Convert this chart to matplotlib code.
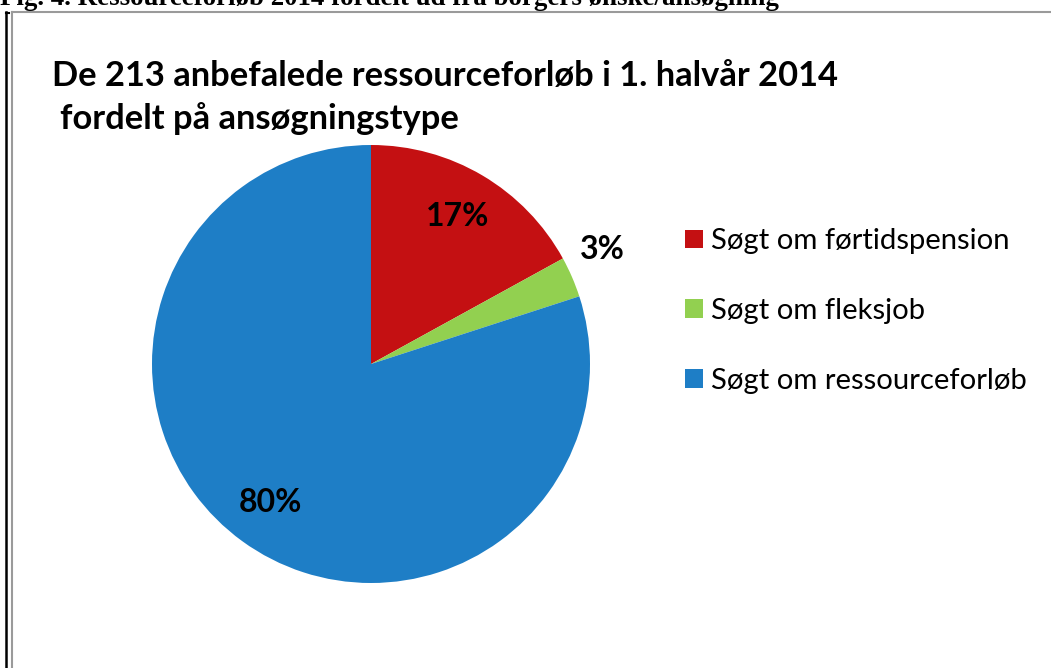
import numpy as np
import matplotlib.pyplot as plt
from matplotlib.lines import Line2D

# data
labels = ["Søgt om førtidspension", "Søgt om fleksjob", "Søgt om ressourceforløb"]
shares = [17, 3, 80]
colors = ["#C41012", "#92D050", "#1E7EC6"]

title_lines = ["De 213 anbefalede ressourceforløb i 1. halvår 2014", "fordelt på ansøgningstype"]
caption = "Fig. 4. Ressourceforløb 2014 fordelt ud fra borgers ønske/ansøgning"

W, H = 1051, 668
fig = plt.figure(figsize=(W / 100, H / 100), dpi=100)
plt.rcParams['font.family'] = ['Lato', 'DejaVu Sans']

# pie axes: centre (371, 364) px, radius 219 px
cx, cy, r = 371, 364, 219
ax = fig.add_axes([(cx - r) / W, (H - cy - r) / H, 2 * r / W, 2 * r / H])
wedges, texts, autotexts = ax.pie(shares, colors=colors, startangle=90, counterclock=False,
                                  autopct='%d%%', pctdistance=0.78,
                                  textprops=dict(fontsize=23, fontweight='bold', color='black'))
# small slice label sits outside the pie
ang = 90 - (shares[0] + shares[1] / 2) * 3.6 + 3
autotexts[1].set_position((1.18 * np.cos(np.radians(ang)), 1.18 * np.sin(np.radians(ang))))
ax.set_xlim(-1, 1)
ax.set_ylim(-1, 1)
ax.axis('off')

fig.text(52 / W, 1 - 86 / H, title_lines[0], ha='left', va='baseline', fontsize=24.8,
         fontweight='bold')
fig.text(60 / W, 1 - 129 / H, title_lines[1], ha='left', va='baseline', fontsize=24.8,
         fontweight='bold')

fig.legend(wedges, labels, loc='center left', bbox_to_anchor=(685 / W, 1 - 311 / H),
           frameon=False, fontsize=21.1, handlelength=0.61, handleheight=0.61,
           handletextpad=0.27, labelspacing=1.49, borderaxespad=0, borderpad=0)

# clipped caption and page frame
fig.text(0, 1 - 5 / H, caption, ha='left', va='baseline', fontsize=19.4, fontweight='bold',
         family='Liberation Serif')
fig.add_artist(Line2D([6 / W, 6 / W], [0, 1 - 12 / H], color='black', lw=1.8))
fig.add_artist(Line2D([6 / W, 9 / W], [1 - 12.5 / H, 1 - 12.5 / H], color='black', lw=1.5))
fig.add_artist(Line2D([11.5 / W, 11.5 / W], [0, 1 - 12 / H], color='#9a9a9a', lw=1.5))
fig.add_artist(Line2D([11.5 / W, 1], [1 - 12 / H, 1 - 12 / H], color='#9a9a9a', lw=1.5))

fig.savefig("out.png", dpi=100)
